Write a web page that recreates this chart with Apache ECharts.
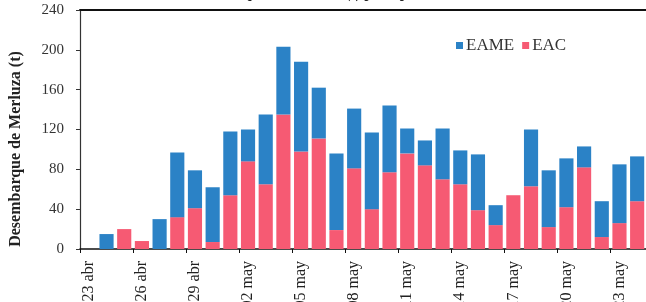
<!DOCTYPE html>
<html>
<head>
<meta charset="utf-8">
<script src="https://cdn.jsdelivr.net/npm/echarts@6/dist/echarts.min.js"></script>
<style>
  html, body { margin: 0; padding: 0; background: #fff; }
  #main { width: 646px; height: 302px; }
</style>
</head>
<body>
<div id="main"></div>
<script>
'use strict'

// days shown on the x axis
const days = [
    '23 abr', '24 abr', '25 abr', '26 abr', '27 abr', '28 abr', '29 abr', '30 abr',
    '01 may', '02 may', '03 may', '04 may', '05 may', '06 may', '07 may', '08 may',
    '09 may', '10 may', '11 may', '12 may', '13 may', '14 may', '15 may', '16 may',
    '17 may', '18 may', '19 may', '20 may', '21 may', '22 may', '23 may', '24 may'
];

// landings (t) per fleet type
const eac = [0, 0, 20, 8, 0, 32, 41, 7, 54, 88, 65, 135, 98, 111, 19, 81,
    40, 77, 96, 84, 70, 65, 39, 24, 54, 63, 22, 42, 82, 12, 26, 48];
const eame = [0, 15, 0, 0, 30, 65, 38, 55, 64, 32, 70, 68, 90, 51, 77, 60,
    77, 67, 25, 25, 51, 34, 56, 20, 0, 57, 57, 49, 21, 36, 59, 45];

const yTicks = [0, 40, 80, 120, 160, 200, 240];

const serif = '"Liberation Serif", "DejaVu Serif", serif';

var myChart = echarts.init(document.getElementById('main'), null, { renderer: 'canvas' });

var option = {
    animation: false,
    backgroundColor: '#fff',
    title: {
        text: 'Desembarque de merluza (t) por tipo de flota',
        left: 'center',
        top: -18,
        textStyle: { fontFamily: serif, fontSize: 15, fontWeight: 'bold', color: '#222' }
    },
    legend: {
        data: ['EAME', 'EAC'],
        left: 451,
        top: 32,
        itemWidth: 7,
        itemHeight: 7,
        itemGap: 8,
        icon: 'rect',
        textStyle: { fontFamily: serif, fontSize: 17, color: '#333', padding: [0, 0, 0, -2] }
    },
    grid: { left: 80, right: 0, top: 10, bottom: 53, containLabel: false, outerBoundsMode: 'none' },
    xAxis: [{
        type: 'category',
        data: days,
        axisLine: { lineStyle: { color: '#111', width: 1.5 } },
        axisTick: { show: true, length: 4, lineStyle: { color: '#111' } },
        axisLabel: {
            interval: 2,
            rotate: 90,
            margin: 12,
            fontFamily: serif,
            fontSize: 16,
            color: '#222'
        }
    }, {
        type: 'category',
        position: 'top',
        data: days,
        axisLine: { show: true, onZero: false, lineStyle: { color: '#111', width: 2 } },
        axisTick: { show: false },
        axisLabel: { show: false }
    }],
    yAxis: {
        type: 'value',
        min: 0,
        max: 240,
        interval: 40,
        axisLine: { show: true, lineStyle: { color: '#333', width: 1.2 } },
        axisTick: { show: true, length: 4, lineStyle: { color: '#333' } },
        splitLine: { show: false },
        axisLabel: {
            margin: 16,
            fontFamily: serif,
            fontSize: 15,
            color: '#333',
            formatter: function (v) { return yTicks.indexOf(v) >= 0 ? String(v) : ''; }
        }
    },
    graphic: [{
        type: 'text',
        x: 16,
        y: 149,
        rotation: Math.PI / 2,
        style: {
            text: 'Desembarque de Merluza (t)',
            fontFamily: serif,
            fontSize: 16,
            fontWeight: 'bold',
            fill: '#222',
            textAlign: 'center',
            textVerticalAlign: 'middle'
        }
    }],
    series: [{
        name: 'EAC',
        type: 'bar',
        stack: 'total',
        data: eac,
        barCategoryGap: '20%',
        itemStyle: { color: '#f65a73' }
    }, {
        name: 'EAME',
        type: 'bar',
        stack: 'total',
        data: eame,
        barCategoryGap: '20%',
        itemStyle: { color: '#2b82c6' }
    }]
};

myChart.setOption(option);
</script>
</body>
</html>
